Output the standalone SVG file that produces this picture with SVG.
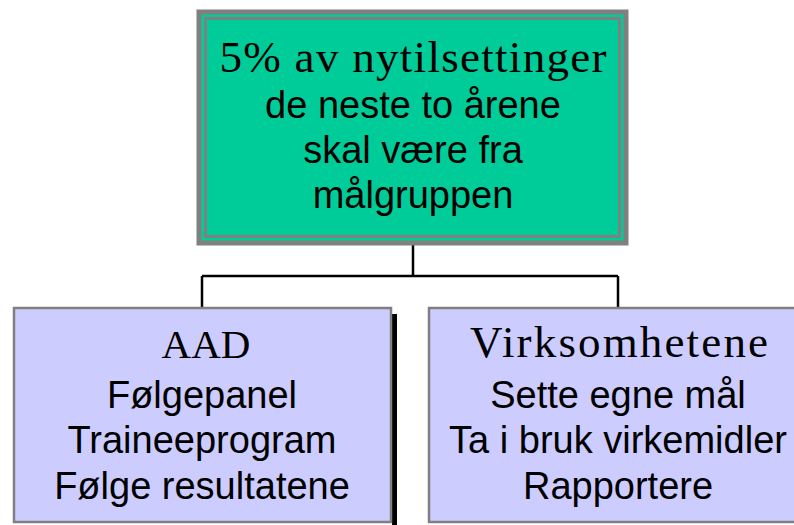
<svg xmlns="http://www.w3.org/2000/svg" width="794" height="525" viewBox="0 0 794 525">
  <style>
    .serif { font-family: "Liberation Serif", "Times New Roman", serif; font-size: 45px; fill: #000; text-anchor: middle; }
    .sans { font-family: "Liberation Sans", Arial, sans-serif; font-size: 38px; fill: #000; text-anchor: middle; }
    .conn { fill: none; stroke: #000; stroke-width: 2.5; }
    .sub { fill: #CCCCFF; stroke: #808080; stroke-width: 2.5; }
  </style>
  <rect width="794" height="525" fill="#fff"/>
  <g id="connectors">
    <path class="conn" d="M413,245 V276 M202,276 H618 M202,276 V307 M618,276 V307"/>
  </g>
  <g id="top">
    <rect x="199" y="12" width="427" height="231" fill="#00CC99" stroke="#808080" stroke-width="5"/>
    <rect x="205.5" y="18.5" width="414" height="218" fill="none" stroke="#808080" stroke-width="3"/>
    <text class="serif" x="413" y="72" textLength="387" lengthAdjust="spacing">5% av nytilsettinger</text>
    <text class="sans" x="413" y="118">de neste to årene</text>
    <text class="sans" x="413" y="163">skal være fra</text>
    <text class="sans" x="413" y="208">målgruppen</text>
  </g>
  <g id="aad">
    <rect x="392" y="314" width="5" height="215" fill="#000"/>
    <rect class="sub" x="14" y="308" width="377" height="214"/>
    <text class="serif" x="206" y="358" style="font-size:41px">AAD</text>
    <text class="sans" x="202" y="408">Følgepanel</text>
    <text class="sans" x="202" y="453">Traineeprogram</text>
    <text class="sans" x="202" y="499">Følge resultatene</text>
  </g>
  <g id="virksomhetene">
    <rect class="sub" x="429" y="308" width="378" height="214"/>
    <text class="serif" x="619" y="357" textLength="298" lengthAdjust="spacing">Virksomhetene</text>
    <text class="sans" x="618" y="408">Sette egne mål</text>
    <text class="sans" x="618" y="453">Ta i bruk virkemidler</text>
    <text class="sans" x="618" y="499">Rapportere</text>
  </g>
</svg>
